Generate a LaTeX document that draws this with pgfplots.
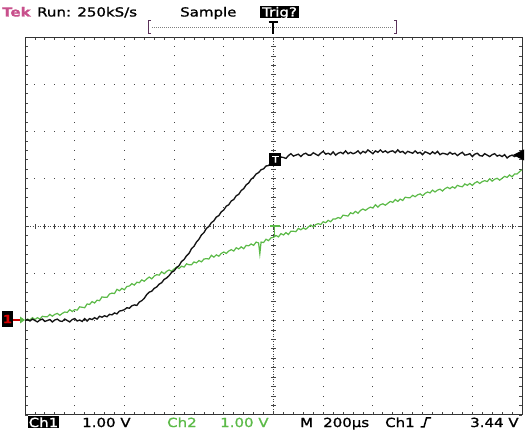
\documentclass[border=0pt]{standalone}
\usepackage{pgfplots}
\pgfplotsset{compat=1.18}
\usepackage{fontspec}
\setmainfont{DejaVu Sans}[FakeStretch=1.2, FakeBold=1.2]
\definecolor{tekmag}{RGB}{200,80,140}
\definecolor{chgreen}{RGB}{92,186,72}
\definecolor{trace1}{RGB}{20,20,20}
\definecolor{grat}{RGB}{70,70,70}
\definecolor{brk}{RGB}{90,50,90}

% Ch1 (black), time in microseconds, volts
\pgfplotstableread{
t V
-1000 0.00
-990 0.02
-980 -0.01
-970 0.03
-960 0.00
-950 -0.03
-940 0.01
-930 0.03
-920 -0.02
-910 0.00
-900 0.02
-890 -0.03
-880 0.01
-870 0.03
-860 -0.01
-850 -0.02
-840 0.03
-830 0.00
-820 -0.03
-810 0.02
-800 0.04
-790 -0.01
-780 0.01
-770 -0.02
-760 0.04
-750 -0.01
-740 0.04
-730 0.02
-720 0.06
-710 0.03
-700 0.09
-690 0.07
-680 0.10
-670 0.08
-660 0.13
-650 0.12
-640 0.16
-630 0.14
-620 0.20
-610 0.21
-600 0.23
-590 0.27
-580 0.26
-570 0.31
-560 0.33
-550 0.32
-540 0.39
-530 0.42
-520 0.47
-510 0.55
-500 0.60
-490 0.62
-480 0.68
-470 0.71
-460 0.77
-450 0.80
-440 0.87
-430 0.90
-420 0.95
-410 1.02
-400 1.05
-390 1.12
-380 1.16
-370 1.25
-360 1.29
-350 1.37
-340 1.42
-330 1.52
-320 1.57
-310 1.66
-300 1.72
-290 1.81
-280 1.86
-270 1.95
-260 1.99
-250 2.07
-240 2.11
-230 2.19
-220 2.22
-210 2.30
-200 2.34
-190 2.42
-180 2.45
-170 2.53
-160 2.56
-150 2.64
-140 2.67
-130 2.75
-120 2.79
-110 2.87
-100 2.91
-90 2.99
-80 3.03
-70 3.10
-60 3.13
-50 3.19
-40 3.21
-30 3.27
-20 3.28
-10 3.34
0 3.39
10 3.40
20 3.40
30 3.46
40 3.45
50 3.43
60 3.49
70 3.53
80 3.48
90 3.50
100 3.52
110 3.47
120 3.52
130 3.54
140 3.50
150 3.50
160 3.55
170 3.52
180 3.49
190 3.54
200 3.58
210 3.52
220 3.54
230 3.51
240 3.57
250 3.50
260 3.54
270 3.56
280 3.53
290 3.59
300 3.53
310 3.56
320 3.53
330 3.55
340 3.59
350 3.53
360 3.58
370 3.55
380 3.61
390 3.57
400 3.53
410 3.59
420 3.56
430 3.61
440 3.56
450 3.59
460 3.55
470 3.58
480 3.59
490 3.55
500 3.61
510 3.56
520 3.58
530 3.53
540 3.58
550 3.56
560 3.54
570 3.59
580 3.54
590 3.56
600 3.51
610 3.57
620 3.55
630 3.52
640 3.57
650 3.53
660 3.58
670 3.51
680 3.54
690 3.53
700 3.51
710 3.56
720 3.52
730 3.54
740 3.49
750 3.53
760 3.56
770 3.50
780 3.51
790 3.53
800 3.47
810 3.52
820 3.54
830 3.49
840 3.48
850 3.53
860 3.50
870 3.47
880 3.51
890 3.53
900 3.48
910 3.50
920 3.47
930 3.51
940 3.44
950 3.48
960 3.50
970 3.47
980 3.50
990 3.45
1000 3.47
}\chone

% Ch2 (green)
\pgfplotstableread{
t V
-1000 0.00
-990 0.03
-980 0.01
-970 0.06
-960 0.02
-950 0.06
-940 0.03
-930 0.09
-920 0.08
-910 0.08
-900 0.13
-890 0.09
-880 0.13
-870 0.15
-860 0.11
-850 0.15
-840 0.18
-830 0.17
-820 0.23
-810 0.19
-800 0.23
-790 0.22
-780 0.29
-770 0.28
-760 0.27
-750 0.35
-740 0.34
-730 0.40
-720 0.37
-710 0.43
-700 0.42
-690 0.50
-680 0.49
-670 0.49
-660 0.56
-650 0.58
-640 0.57
-630 0.66
-620 0.63
-610 0.68
-600 0.65
-590 0.72
-580 0.73
-570 0.78
-560 0.75
-550 0.81
-540 0.80
-530 0.86
-520 0.83
-510 0.88
-500 0.92
-490 0.88
-480 0.94
-470 0.97
-460 0.96
-450 1.03
-440 0.99
-430 1.04
-420 1.07
-410 1.04
-400 1.09
-390 1.13
-380 1.10
-370 1.15
-360 1.13
-350 1.20
-340 1.18
-330 1.18
-320 1.24
-310 1.22
-300 1.27
-290 1.24
-280 1.30
-270 1.31
-260 1.30
-250 1.38
-240 1.34
-230 1.39
-220 1.36
-210 1.42
-200 1.45
-190 1.42
-180 1.47
-170 1.50
-160 1.47
-150 1.54
-140 1.51
-130 1.56
-120 1.52
-110 1.59
-100 1.58
-90 1.62
-80 1.59
-70 1.66
-60 1.64
-55 1.41
-50 1.66
-40 1.65
-30 1.72
-20 1.69
-10 1.75
0 1.76
10 1.80
20 1.77
30 1.84
40 1.81
50 1.86
60 1.82
70 1.89
80 1.89
90 1.88
100 1.95
110 1.92
120 1.96
130 1.93
140 1.98
150 2.02
160 1.98
170 2.03
180 2.05
190 2.03
200 2.09
210 2.07
220 2.12
230 2.09
240 2.15
250 2.15
260 2.18
270 2.16
280 2.23
290 2.22
300 2.21
310 2.28
320 2.26
330 2.31
340 2.27
350 2.33
360 2.36
370 2.33
380 2.37
390 2.40
400 2.38
410 2.45
420 2.40
430 2.45
440 2.47
450 2.44
460 2.48
470 2.52
480 2.50
490 2.56
500 2.52
510 2.57
520 2.54
530 2.61
540 2.60
550 2.60
560 2.65
570 2.62
580 2.66
590 2.68
600 2.64
610 2.69
620 2.72
630 2.70
640 2.76
650 2.72
660 2.76
670 2.78
680 2.74
690 2.79
700 2.82
710 2.79
720 2.83
730 2.80
740 2.86
750 2.84
760 2.83
770 2.89
780 2.86
790 2.90
800 2.86
810 2.91
820 2.94
830 2.90
840 2.94
850 2.96
860 2.94
870 3.00
880 2.95
890 2.99
900 3.01
910 2.97
920 3.01
930 3.05
940 3.03
950 3.08
960 3.04
970 3.10
980 3.10
990 3.15
1000 3.19
}\chtwo

\begin{document}
\fontsize{12.5bp}{15bp}\selectfont
\begin{tikzpicture}
\useasboundingbox (0,0) rectangle (528bp,437bp);
\begin{axis}[
  at={(25bp,22bp)}, anchor=south west,
  scale only axis, width=497bp, height=378bp,
  xmin=-1000, xmax=1000, ymin=-2, ymax=6,
  xtick={-1000,-800,...,1000}, ytick={-2,-1,...,6},
  xticklabels={}, yticklabels={},
  minor x tick num=4, minor y tick num=4,
  tick align=inside,
  major tick length=3bp, minor tick length=3bp,
  every tick/.style={grat, line width=0.8bp},
  axis line style={black!80, line width=1bp},
  clip=true,
]
% graticule
\pgfplotsinvokeforeach{-800,-600,-400,-200,200,400,600,800}{
  \draw[grat, line width=1bp, dash pattern=on 1bp off 8.45bp, dash phase=0.5bp] (axis cs:#1,-2) -- (axis cs:#1,6);
}
\pgfplotsinvokeforeach{-1,0,1,3,4,5}{
  \draw[grat, line width=1bp, dash pattern=on 1bp off 8.94bp, dash phase=0.5bp] (axis cs:-1000,#1) -- (axis cs:1000,#1);
}
\draw[grat, line width=0.8bp, dash pattern=on 1bp off 1.5bp] (axis cs:-1000,2) -- (axis cs:1000,2);
\draw[grat, line width=0.8bp, dash pattern=on 1bp off 1.5bp] (axis cs:0,-2) -- (axis cs:0,6);
\pgfplotsinvokeforeach{-960,-920,...,960}{
  \draw[grat, line width=0.8bp] ([yshift=-2.5bp]axis cs:#1,2) -- ([yshift=2.5bp]axis cs:#1,2);
}
\pgfplotsinvokeforeach{-1.8,-1.6,...,5.9}{
  \draw[grat, line width=0.8bp] ([xshift=-2.5bp]axis cs:0,#1) -- ([xshift=2.5bp]axis cs:0,#1);
}
% traces
\addplot[chgreen, line width=1.2bp] table[x=t,y=V] {\chtwo};
\addplot[trace1, line width=1.35bp] table[x=t,y=V] {\chone};
% trigger markers
\node[fill=black, minimum width=12bp, minimum height=13bp, inner sep=0pt, text=white, font=\fontsize{9bp}{9bp}\selectfont] at (axis cs:8,3.41) {T};
\draw[chgreen, line width=1.5bp] (axis cs:-14,2) -- (axis cs:26,2);
\draw[chgreen, line width=1.5bp] (axis cs:4,2) -- (axis cs:4,1.79);
\end{axis}

% ground marker
\fill[black] (2bp,110bp) rectangle (13bp,126bp);
\node[text=red!85!black, inner sep=0pt, font=\fontsize{11bp}{11bp}\selectfont\bfseries] at (7.5bp,118bp) {1};
\draw[red!80!black, line width=1.2bp] (13bp,117bp) -- (21bp,117bp);
\fill[chgreen] (25bp,117bp) -- (20bp,120.5bp) -- (20bp,113.5bp) -- cycle;
% trigger level marker
\fill[black] (513bp,282bp) -- (524bp,287.5bp) -- (524bp,276.5bp) -- cycle;

% top line
\node[anchor=base west, inner sep=0pt, text=tekmag, font=\bfseries] at (2bp,420.5bp) {Tek};
\node[anchor=base west, inner sep=0pt] at (37bp,420.5bp) {Run: 250kS/s};
\node[anchor=base west, inner sep=0pt] at (180bp,420.5bp) {Sample};
\fill[black] (260bp,418.5bp) rectangle (299bp,430.5bp);
\node[anchor=base, inner sep=0pt, text=white] at (279.5bp,420.5bp) {Trig?};
% record bracket
\draw[brk, line width=1bp] (151bp,416bp) -- (148.5bp,416bp) -- (148.5bp,403bp) -- (151bp,403bp);
\draw[brk, line width=1bp] (394bp,416bp) -- (396.5bp,416bp) -- (396.5bp,403bp) -- (394bp,403bp);
\draw[gray, line width=0.8bp, dash pattern=on 1bp off 1bp] (152bp,410bp) -- (393bp,410bp);
\draw[black, line width=1.3bp] (268.5bp,415bp) -- (277.5bp,415bp);
\draw[black, line width=1.3bp] (273bp,415bp) -- (273bp,403bp);

% bottom line
\fill[black] (28bp,8.5bp) rectangle (59bp,20.5bp);
\node[anchor=base, inner sep=0pt, text=white] at (43.5bp,10bp) {Ch1};
\node[anchor=base west, inner sep=0pt] at (82bp,10bp) {1.00 V};
\node[anchor=base west, inner sep=0pt, text=chgreen] at (167bp,10bp) {Ch2};
\node[anchor=base west, inner sep=0pt, text=chgreen] at (220bp,10bp) {1.00 V};
\node[anchor=base west, inner sep=0pt] at (300bp,10bp) {M};
\node[anchor=base west, inner sep=0pt] at (323bp,10bp) {200µs};
\node[anchor=base west, inner sep=0pt] at (385bp,10bp) {Ch1};
\draw[black, line width=1.5bp] (420.5bp,10bp) -- (424bp,10bp) -- (426.5bp,19bp) -- (431bp,19bp);
\node[anchor=base west, inner sep=0pt] at (470bp,10bp) {3.44 V};
\end{tikzpicture}
\end{document}
